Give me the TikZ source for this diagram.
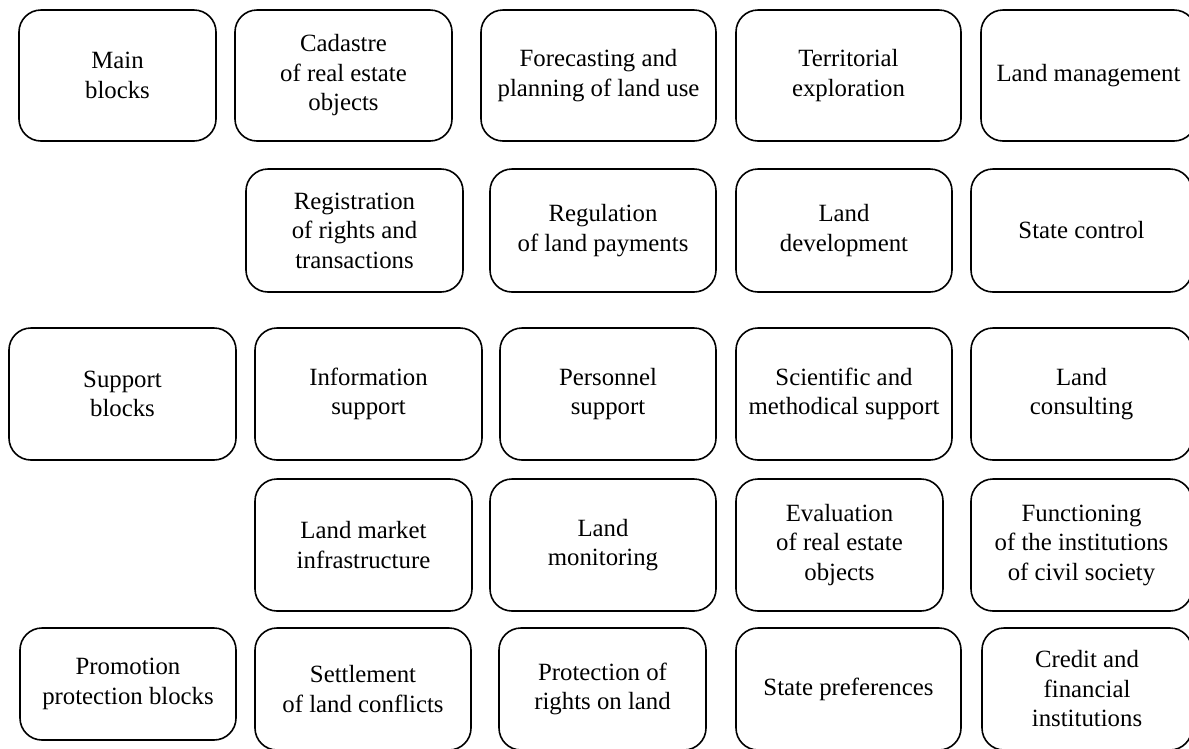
\documentclass[tikz,border=0pt]{standalone}
\usepackage{fontspec}
\setmainfont{Liberation Serif}
\tikzset{
  blk/.style={draw=black, line width=1.6pt, rounded corners=22pt, inner sep=0pt,
    align=center, font=\fontsize{24.8}{29.5}\selectfont, text=black}
}
\newcommand{\blkbox}[6]{% name, x1, y1, x2, y2, text
  \node[blk, minimum width={#4-#2}, minimum height={#5-#3}] (#1) at ({(#2+#4)/2},{(#3+#5)/2}) {#6};}
\begin{document}
\begin{tikzpicture}[x=1pt,y=-1pt]
\useasboundingbox (0,0) rectangle (1189,748);
\begin{scope}
\clip (0,0) rectangle (1189,748);
% Row 1
\blkbox{main}{19}{10}{216}{141}{Main\\blocks}
\blkbox{cad}{235}{10}{452}{141}{Cadastre\\of real estate\\objects}
\blkbox{fore}{481}{10}{716}{141}{Forecasting and\\planning of land use}
\blkbox{terr}{736}{10}{961}{141}{Territorial\\exploration}
\blkbox{lman}{981}{10}{1196}{141}{Land management}
% Row 2
\blkbox{reg}{246}{169}{463}{292}{Registration\\of rights and\\transactions}
\blkbox{regp}{490}{169}{716}{292}{Regulation\\of land payments}
\blkbox{ldev}{736}{169}{952}{292}{Land\\development}
\blkbox{sctl}{971}{169}{1192}{292}{State control}
% Row 3
\blkbox{supp}{9}{328}{236}{460}{Support\\blocks}
\blkbox{info}{255}{328}{482}{460}{Information\\support}
\blkbox{pers}{500}{328}{716}{460}{Personnel\\support}
\blkbox{sci}{736}{328}{952}{460}{Scientific and\\methodical support}
\blkbox{cons}{971}{328}{1192}{460}{Land\\consulting}
% Row 4
\blkbox{mkt}{255}{479}{472}{611}{Land market\\infrastructure}
\blkbox{mon}{490}{479}{716}{611}{Land\\monitoring}
\blkbox{eval}{736}{479}{943}{611}{Evaluation\\of real estate\\objects}
\blkbox{func}{971}{479}{1192}{611}{Functioning\\of the institutions\\of civil society}
% Row 5
\blkbox{prom}{20}{628}{236}{740}{Promotion\\protection blocks}
\blkbox{sett}{255}{628}{471}{750}{Settlement\\of land conflicts}
\blkbox{prot}{499}{628}{706}{750}{Protection of\\rights on land}
\blkbox{spref}{736}{628}{961}{750}{State preferences}
\blkbox{cred}{982}{628}{1192}{750}{Credit and\\financial\\institutions}
\end{scope}
\end{tikzpicture}
\end{document}
